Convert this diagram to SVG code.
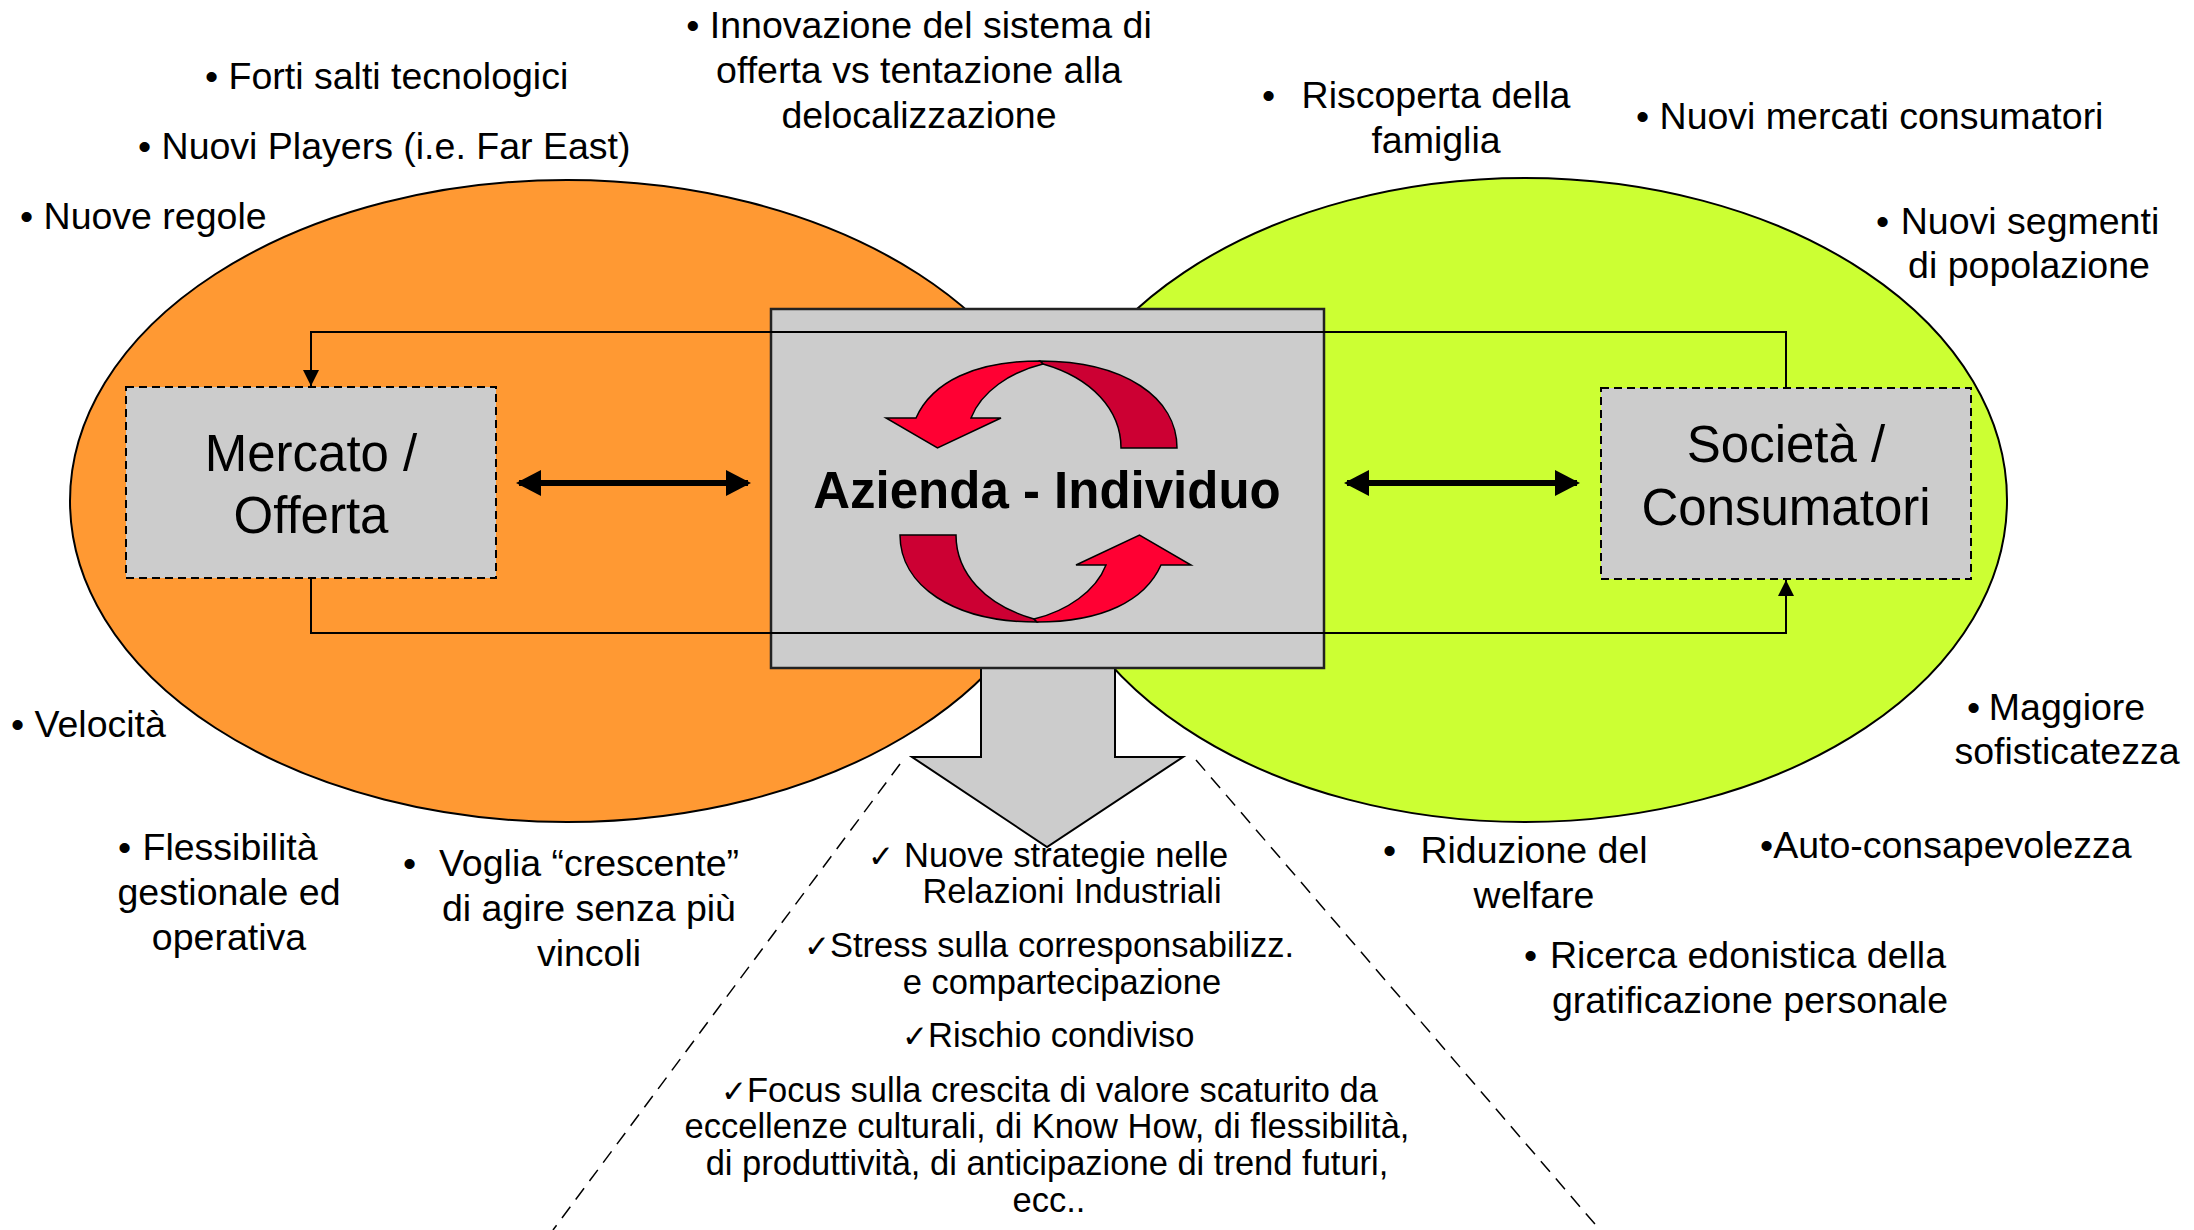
<svg xmlns="http://www.w3.org/2000/svg" width="2194" height="1230" viewBox="0 0 2194 1230">
<defs>
<style>
.t{font-family:"Liberation Sans",Arial,sans-serif;font-size:37.5px;fill:#000}
.l{font-family:"Liberation Sans",Arial,sans-serif;font-size:34.5px;fill:#000}
.ck{font-family:"DejaVu Sans",sans-serif;font-size:31px}
.big{font-family:"Liberation Sans",Arial,sans-serif;font-size:51px;fill:#000}
.node{fill:#CCCCCC;stroke:#000;stroke-width:2;stroke-dasharray:8 5}
.conn{fill:none;stroke:#000;stroke-width:2}
.dbl{fill:none;stroke:#000;stroke-width:6}
.dash{fill:none;stroke:#000;stroke-width:1.5;stroke-dasharray:14 9}
.light{fill:#FF0033;stroke:#000;stroke-width:1.5;stroke-linejoin:miter}
.dark{fill:#CC0033;stroke:#000;stroke-width:1.5}
</style>
<marker id="ah" viewBox="0 0 16 16" refX="16" refY="8" markerWidth="16" markerHeight="16" markerUnits="userSpaceOnUse" orient="auto">
<path d="M0,0 L16,8 L0,16 Z" fill="#000"/>
</marker>
<marker id="bh" viewBox="0 0 25 26" refX="22" refY="13" markerWidth="25" markerHeight="26" markerUnits="userSpaceOnUse" orient="auto-start-reverse">
<path d="M0,0 L25,13 L0,26 Z" fill="#000"/>
</marker>
</defs>
<rect width="2194" height="1230" fill="#FFFFFF"/>

<g id="ellipse-mercato">
<ellipse cx="567" cy="501" rx="497" ry="321" fill="#FF9933" stroke="#000" stroke-width="2"/>
</g>
<g id="ellipse-societa">
<ellipse cx="1525" cy="500" rx="482" ry="322" fill="#CCFF33" stroke="#000" stroke-width="2"/>
</g>

<g id="arrow-down">
<path d="M981,660 L981,757 L912,757 L1047,847 L1183,757 L1115,757 L1115,660 Z" fill="#CCCCCC" stroke="#000" stroke-width="2"/>
</g>

<g id="azienda-individuo">
<rect x="771" y="309" width="553" height="359" fill="#CCCCCC" stroke="#222" stroke-width="2.5"/>
</g>

<g id="connectors">
<path class="conn" d="M1786,388 V332 H311 V386" marker-end="url(#ah)"/>
<path class="conn" d="M311,579 V633 H1786 V580" marker-end="url(#ah)"/>
<path class="dbl" d="M519,483 H748" marker-start="url(#bh)" marker-end="url(#bh)"/>
<path class="dbl" d="M1347,483 H1577" marker-start="url(#bh)" marker-end="url(#bh)"/>
<path class="dash" d="M900,764 L553,1230"/>
<path class="dash" d="M1196,760 L1600,1230"/>
</g>

<g id="cycle">
<g id="cycle-top">
<path class="dark" d="M1040,361 C1125,361 1177,398 1177,448 L1121,448 C1121,410 1092,378 1043,364 Z"/>
<path class="light" d="M1043,364 C1010,372 981,392 971,418 L1001,418 L937.5,448 L886,418 L916,418 C932,382 975,361 1040,361 Z"/>
</g>
<g id="cycle-bottom" transform="rotate(180 1038.5 491.5)">
<path class="dark" d="M1040,361 C1125,361 1177,398 1177,448 L1121,448 C1121,410 1092,378 1043,364 Z"/>
<path class="light" d="M1043,364 C1010,372 981,392 971,418 L1001,418 L937.5,448 L886,418 L916,418 C932,382 975,361 1040,361 Z"/>
</g>
</g>
<text class="big" x="1047" y="508" text-anchor="middle" font-weight="bold">Azienda - Individuo</text>

<g id="mercato-offerta">
<rect class="node" x="126" y="387" width="370" height="191"/>
<text class="big" text-anchor="middle"><tspan x="311" y="471">Mercato /</tspan><tspan x="311" y="533">Offerta</tspan></text>
</g>

<g id="societa-consumatori">
<rect class="node" x="1601" y="388" width="370" height="191"/>
<text class="big" text-anchor="middle"><tspan x="1786" y="462">Società /</tspan><tspan x="1786" y="525">Consumatori</tspan></text>
</g>

<g id="labels-mercato">
<text class="t" x="205" y="89">• Forti salti tecnologici</text>
<text class="t" x="138" y="159">• Nuovi Players (i.e. Far East)</text>
<text class="t" x="20" y="229">• Nuove regole</text>
<text class="t" x="919" y="38" text-anchor="middle">• Innovazione del sistema di</text>
<text class="t" x="919" y="83" text-anchor="middle">offerta vs tentazione alla</text>
<text class="t" x="919" y="128" text-anchor="middle">delocalizzazione</text>
<text class="t" x="11" y="737">• Velocità</text>
<text class="t"><tspan x="118" y="860">•</tspan><tspan x="230" y="860" text-anchor="middle">Flessibilità</tspan><tspan x="229" y="905" text-anchor="middle">gestionale ed</tspan><tspan x="229" y="950" text-anchor="middle">operativa</tspan></text>
<text class="t"><tspan x="403" y="876">•</tspan><tspan x="589" y="876" text-anchor="middle">Voglia “crescente”</tspan><tspan x="589" y="921" text-anchor="middle">di agire senza più</tspan><tspan x="589" y="966" text-anchor="middle">vincoli</tspan></text>
</g>

<g id="labels-societa">
<text class="t"><tspan x="1262" y="108">•</tspan><tspan x="1436" y="108" text-anchor="middle">Riscoperta della</tspan><tspan x="1436" y="153" text-anchor="middle">famiglia</tspan></text>
<text class="t" x="1636" y="129">• Nuovi mercati consumatori</text>
<text class="t"><tspan x="1876" y="234">•</tspan><tspan x="2030" y="234" text-anchor="middle">Nuovi segmenti</tspan><tspan x="2029" y="278" text-anchor="middle">di popolazione</tspan></text>
<text class="t"><tspan x="1967" y="720">•</tspan><tspan x="2067" y="720" text-anchor="middle">Maggiore</tspan><tspan x="2067" y="764" text-anchor="middle">sofisticatezza</tspan></text>
<text class="t" x="1760" y="858">•Auto-consapevolezza</text>
<text class="t"><tspan x="1383" y="863">•</tspan><tspan x="1534" y="863" text-anchor="middle">Riduzione del</tspan><tspan x="1534" y="908" text-anchor="middle">welfare</tspan></text>
<text class="t"><tspan x="1524" y="968">•</tspan><tspan x="1748" y="968" text-anchor="middle">Ricerca edonistica della</tspan><tspan x="1750" y="1013" text-anchor="middle">gratificazione personale</tspan></text>
</g>

<g id="labels-azienda">
<text class="l"><tspan x="868" y="867" class="ck">✓</tspan><tspan x="904" y="867">Nuove strategie nelle</tspan></text>
<text class="l" x="1072" y="903" text-anchor="middle">Relazioni Industriali</text>
<text class="l"><tspan x="804" y="957" class="ck">✓</tspan><tspan x="830" y="957">Stress sulla corresponsabilizz.</tspan></text>
<text class="l" x="1062" y="994" text-anchor="middle">e compartecipazione</text>
<text class="l"><tspan x="902" y="1047" class="ck">✓</tspan><tspan x="928" y="1047">Rischio condiviso</tspan></text>
<text class="l"><tspan x="721" y="1102" class="ck">✓</tspan><tspan x="747" y="1102">Focus sulla crescita di valore scaturito da</tspan></text>
<text class="l" x="1047" y="1138" text-anchor="middle">eccellenze culturali, di Know How, di flessibilità,</text>
<text class="l" x="1047" y="1175" text-anchor="middle">di produttività, di anticipazione di trend futuri,</text>
<text class="l" x="1049" y="1212" text-anchor="middle">ecc..</text>
</g>
</svg>
